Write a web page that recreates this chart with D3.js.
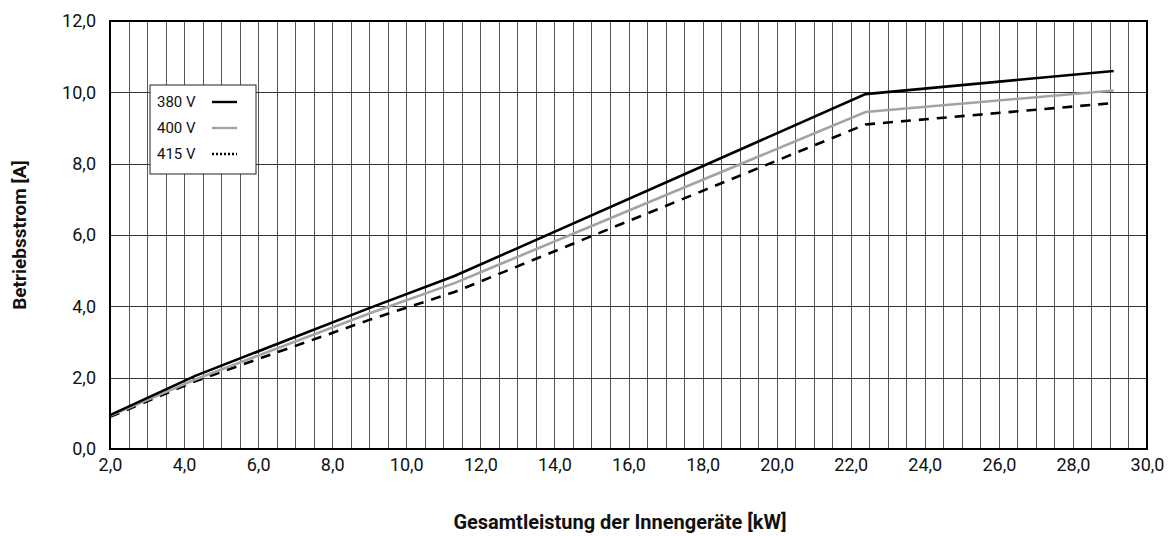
<!DOCTYPE html>
<html lang="de">
<head>
<meta charset="UTF-8">
<title>Betriebsstrom</title>
<script src="https://d3js.org/d3.v7.min.js"></script>
<style>
  body { margin: 0; background: #fff; }
  text { font-family: Roboto, "Liberation Sans", sans-serif; fill: #111; }
  .title { font-weight: bold; font-size: 19px; }
</style>
</head>
<body>
<script>
// data
const xPower = [2.0, 4.3, 9.0, 11.3, 22.4, 29.1];
const amps380 = [0.95, 2.05, 3.95, 4.85, 9.95, 10.6];
const amps400 = [0.93, 1.95, 3.8, 4.65, 9.45, 10.05];
const amps415 = [0.9, 1.9, 3.62, 4.4, 9.1, 9.7];
const seriesNames = ["380 V", "400 V", "415 V"];
const xTicks = d3.range(2, 30.01, 2);
const yTicks = d3.range(0, 12.01, 2);

const W = 1176, H = 536;
const m = {left: 110, right: 29, top: 21, bottom: 87};

const svg = d3.select("body").append("svg")
    .attr("width", W).attr("height", H);

const x = d3.scaleLinear().domain([2, 30]).range([m.left, W - m.right]);
const y = d3.scaleLinear().domain([0, 12]).range([H - m.bottom, m.top]);
const fmt = d => d.toFixed(1).replace(".", ",");

// grid
svg.append("g").selectAll("line")
    .data(d3.range(2.5, 30, 0.5))
    .join("line")
    .attr("x1", d => Math.round(x(d)) + 0.5).attr("x2", d => Math.round(x(d)) + 0.5)
    .attr("y1", y(12)).attr("y2", y(0))
    .attr("stroke", "#555").attr("stroke-width", 1);

svg.append("g").selectAll("line")
    .data(yTicks.slice(1, -1))
    .join("line")
    .attr("x1", x(2)).attr("x2", x(30))
    .attr("y1", d => Math.round(y(d)) + 0.5).attr("y2", d => Math.round(y(d)) + 0.5)
    .attr("stroke", "#333").attr("stroke-width", 1);

// axes
const xAxis = svg.append("g")
    .attr("transform", `translate(0,${y(0)})`)
    .call(d3.axisBottom(x).tickValues(xTicks).tickFormat(fmt).tickSize(0).tickPadding(9));
const yAxis = svg.append("g")
    .attr("transform", `translate(${x(2)},0)`)
    .call(d3.axisLeft(y).tickValues(yTicks).tickFormat(fmt).tickSize(0).tickPadding(14));
[xAxis, yAxis].forEach(a => {
    a.select(".domain").remove();
    a.selectAll("text").style("font-size", "18px").attr("fill", "#111");
});

// lines
const pts = vals => xPower.map((v, i) => [v, vals[i]]);
const line = d3.line().x(d => x(d[0])).y(d => y(d[1]));

const styles = [
    {vals: amps380, color: "#000", dash: null},
    {vals: amps400, color: "#a3a3a3", dash: null},
    {vals: amps415, color: "#000", dash: "10,8"}
];
// 415 first, then 400, then 380 on top
[2, 1, 0].forEach(i => {
    svg.append("path")
        .attr("d", line(pts(styles[i].vals)))
        .attr("fill", "none")
        .attr("stroke", styles[i].color)
        .attr("stroke-width", 2.6)
        .attr("stroke-dasharray", styles[i].dash);
});

// frame
svg.append("rect")
    .attr("x", x(2)).attr("y", y(12))
    .attr("width", x(30) - x(2)).attr("height", y(0) - y(12))
    .attr("fill", "none").attr("stroke", "#000").attr("stroke-width", 2);

// legend
const lg = svg.append("g").attr("transform", "translate(150,85)");
lg.append("rect").attr("width", 106).attr("height", 89)
    .attr("fill", "#fff").attr("stroke", "#222").attr("stroke-width", 1);
const legDash = [null, null, "2,2"];
seriesNames.forEach((n, i) => {
    const yy = 17 + i * 26;
    lg.append("text").attr("x", 7).attr("y", yy).attr("dy", "0.35em")
        .style("font-size", "15px").text(n);
    lg.append("line").attr("x1", 62).attr("x2", 87).attr("y1", yy).attr("y2", yy)
        .attr("stroke", styles[i].color).attr("stroke-width", 2.4)
        .attr("stroke-dasharray", legDash[i]);
});

// titles
svg.append("text").attr("class", "title")
    .attr("x", 620).attr("y", 529)
    .style("font-size", "20px")
    .attr("text-anchor", "middle")
    .text("Gesamtleistung der Innengeräte [kW]");
svg.append("text").attr("class", "title")
    .attr("transform", `translate(26,${(y(0) + y(12)) / 2}) rotate(-90)`)
    .attr("text-anchor", "middle")
    .text("Betriebsstrom [A]");
</script>
</body>
</html>
